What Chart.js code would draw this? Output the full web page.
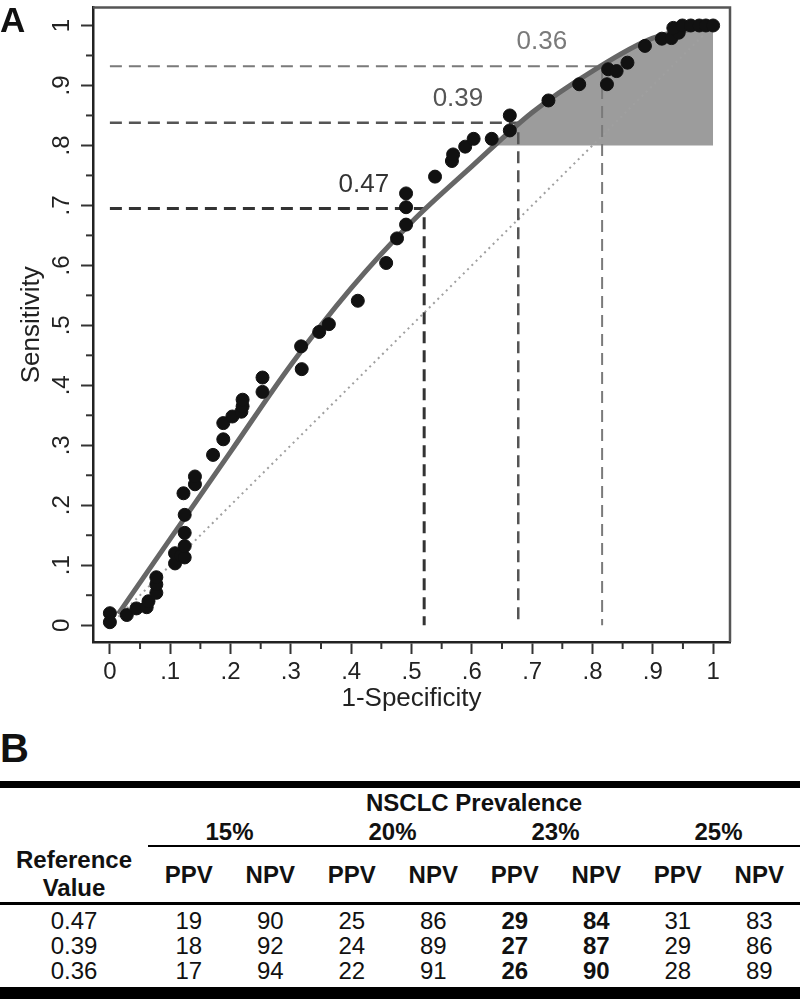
<!DOCTYPE html>
<html>
<head>
<meta charset="utf-8">
<script src="https://cdn.jsdelivr.net/npm/chart.js@4.4.1/dist/chart.umd.min.js"></script>
<style>
	body { margin: 0; background: #fff; font-family: "Liberation Sans", Arial, Helvetica, sans-serif; color: #111; }
	#wrap { position: relative; width: 800px; height: 1000px; overflow: hidden; }
	#roc { position: absolute; left: 0; top: 0; }
	.panel { position: absolute; left: 0; font-weight: bold; line-height: 1; color: #111; }
	#tabla { position: absolute; left: 0; top: 781px; width: 800px; border-collapse: collapse; table-layout: fixed; font-size: 24px; border-top: 7px solid #000; border-bottom: 12px solid #000; }
	#tabla td { padding: 0; text-align: center; white-space: nowrap; }
	#tabla .r1 td { line-height: 30px; font-weight: bold; }
	#tabla .r2 td { line-height: 27px; font-weight: bold; }
	#tabla .r2 td.pct { border-bottom: 2px solid #000; }
	#tabla .r3 { border-bottom: 3px solid #000; }
	#tabla .r3 td { font-weight: bold; vertical-align: middle; line-height: 28px; }
	#tabla .fila td { line-height: 25px; }
	#tabla .fila.primera td { padding-top: 3px; }
	#tabla .fila.ultima td { padding-bottom: 4px; }
	#tabla td.neg { font-weight: bold; }
</style>
</head>
<body>
<div id="wrap">
	<canvas id="roc" width="800" height="720"></canvas>
	<div class="panel" style="top:2px; font-size:35px;">A</div>
	<div class="panel" style="top:728px; font-size:40px;">B</div>
	<table id="tabla"></table>
</div>
<script>
// ejes
const ejeTicks = [0, .1, .2, .3, .4, .5, .6, .7, .8, .9, 1];
const ejeEtiquetas = ['0', '.1', '.2', '.3', '.4', '.5', '.6', '.7', '.8', '.9', '1'];
const ejeMenores = [.05, .15, .25, .35, .45, .55, .65, .75, .85, .95];

// puntos ROC observados (1-especificidad, sensibilidad)
const puntosX = [0, 0, .028, .044, .061, .064, .077, .077, .077, .108, .108, .118, .124, .124, .124, .124, .122, .141, .141,
	.171, .188, .188, .203, .218, .22, .22, .253, .253, .318, .317, .347, .363, .411, .458, .476, .491, .491, .491,
	.539, .567, .569, .589, .603, .633, .663, .663, .727, .778, .824, .826, .84, .858, .887, .915, .931, .943, .934,
	.949, .963, .977, .988, 1];
const puntosY = [.02, .005, .017, .028, .03, .04, .054, .068, .08, .103, .12, .116, .113, .132, .154, .184, .22, .235, .248,
	.284, .31, .337, .348, .356, .365, .376, .389, .413, .427, .465, .489, .502, .541, .604, .645, .668, .697, .72,
	.748, .774, .785, .798, .811, .811, .825, .85, .875, .902, .902, .927, .924, .938, .966, .978, .979, .988, .996,
	1, 1, 1, 1, 1];

// curva ajustada
const curvaX = [.014, .1, .2, .3, .4, .5, .6, .7, .8, .9, 1];
const curvaY = [.019, .144, .289, .434, .562, .672, .765, .855, .924, .979, 1];

// zona sombreada (sensibilidad >= .8)
const zonaX = [.641, .7, .8, .9, 1];
const zonaY = [.8, .855, .924, .979, 1];
const zonaBase = .8;

// puntos de corte
const corteX = [.521, .677, .816];
const corteY = [.695, .838, .932];
const corteEtiquetas = ['0.47', '0.39', '0.36'];
const corteColores = ['#333', '#555', '#7a7a7a'];
const corteAnchos = [3, 2.5, 2];

// tabla B
const prevalencias = ['15%', '20%', '23%', '25%'];
const valoresRef = ['0.47', '0.39', '0.36'];
const ppv = [[19, 25, 29, 31], [18, 24, 27, 29], [17, 22, 26, 28]];
const npv = [[90, 86, 84, 83], [92, 89, 87, 86], [94, 91, 90, 89]];
const prevDestacada = 2;

const fuente = '"Liberation Sans", Arial, Helvetica, sans-serif';
Chart.defaults.font.family = fuente;

function pares(xs, ys){
	return xs.map((x, i) => ({x: x, y: ys[i]}));
}

let datasets = [];
datasets.push({
	type: 'scatter', data: pares(puntosX, puntosY), order: 0,
	pointRadius: 6.5, pointBorderWidth: 1, backgroundColor: '#111', borderColor: '#111'
});
datasets.push({
	type: 'line', data: pares(curvaX, curvaY), order: 1,
	borderColor: '#666', borderWidth: 5, pointRadius: 0, cubicInterpolationMode: 'monotone', fill: false
});
corteX.forEach((cx, i) => {
	datasets.push({
		type: 'line', data: [{x: 0, y: corteY[i]}, {x: cx, y: corteY[i]}, {x: cx, y: 0}], order: 2,
		borderColor: corteColores[i], borderWidth: corteAnchos[i], borderDash: [12, 7], pointRadius: 0, fill: false
	});
});
datasets.push({
	type: 'line', data: [{x: 0, y: 0}, {x: 1, y: 1}], order: 3,
	borderColor: '#a0a0a0', borderWidth: 2, borderDash: [2, 4], pointRadius: 0, fill: false
});
datasets.push({
	type: 'line', data: pares(zonaX, zonaY), order: 4,
	borderWidth: 0, borderColor: 'rgba(0,0,0,0)', backgroundColor: '#9c9c9c', pointRadius: 0,
	cubicInterpolationMode: 'monotone', fill: {value: zonaBase}
});

const extras = {
	id: 'extras',
	afterDraw(chart) {
		const {ctx, chartArea: a, scales: {x, y}} = chart;
		ctx.save();
		// marco superior y derecho
		ctx.strokeStyle = '#555';
		ctx.lineWidth = 2.5;
		ctx.beginPath();
		ctx.moveTo(a.left, a.top); ctx.lineTo(a.right, a.top); ctx.lineTo(a.right, a.bottom);
		ctx.stroke();
		// marcas menores
		ctx.strokeStyle = '#333';
		ctx.lineWidth = 2;
		ejeMenores.forEach(v => {
			const px = x.getPixelForValue(v);
			ctx.beginPath(); ctx.moveTo(px, a.bottom); ctx.lineTo(px, a.bottom + 7); ctx.stroke();
			const py = y.getPixelForValue(v);
			ctx.beginPath(); ctx.moveTo(a.left, py); ctx.lineTo(a.left - 7, py); ctx.stroke();
		});
		// etiquetas de los cortes
		ctx.font = '26px ' + fuente;
		ctx.textAlign = 'center';
		ctx.textBaseline = 'middle';
		corteEtiquetas.forEach((t, i) => {
			ctx.fillStyle = corteColores[i];
			ctx.fillText(t, x.getPixelForValue(corteX[i] - .1), y.getPixelForValue(corteY[i] + .04));
		});
		ctx.restore();
	}
};

function fijarTicks(s){
	s.ticks = ejeTicks.map(v => ({value: v}));
}

new Chart(document.getElementById('roc'), {
	type: 'scatter',
	data: {datasets: datasets},
	options: {
		responsive: false,
		animation: false,
		devicePixelRatio: 1,
		layout: {padding: {top: 3, right: 70, left: 0, bottom: 0}},
		plugins: {legend: {display: false}, tooltip: {enabled: false}},
		scales: {
			x: {
				type: 'linear', min: -.028, max: 1.028,
				afterBuildTicks: fijarTicks,
				afterFit: s => { s.height = 78; s.paddingLeft = 0; s.paddingRight = 0; },
				grid: {drawOnChartArea: false, drawTicks: true, tickLength: 12, tickColor: '#333', tickWidth: 2},
				border: {display: true, color: '#222', width: 2.5},
				ticks: {autoSkip: false, maxRotation: 0, padding: 4, color: '#222', font: {size: 24},
					callback: (v, i) => ejeEtiquetas[i]},
				title: {display: true, text: '1-Specificity', color: '#222', font: {size: 26}, padding: {top: 0, bottom: 6}}
			},
			y: {
				type: 'linear', min: -.028, max: 1.03,
				afterBuildTicks: fijarTicks,
				afterFit: s => { s.width = 93; s.paddingTop = 0; s.paddingBottom = 0; },
				grid: {drawOnChartArea: false, drawTicks: true, tickLength: 12, tickColor: '#333', tickWidth: 2},
				border: {display: true, color: '#222', width: 2.5},
				ticks: {autoSkip: false, minRotation: 90, maxRotation: 90, crossAlign: 'center', padding: 9,
					color: '#222', font: {size: 24}, callback: (v, i) => ejeEtiquetas[i]},
				title: {display: true, text: 'Sensitivity', color: '#222', font: {size: 26}, padding: {top: 16, bottom: 0}}
			}
		}
	},
	plugins: [extras]
});

// tabla
function construirTabla(){
	let out = '<colgroup><col style="width:148px">';
	for (let i = 0; i < 8; i++) out += '<col style="width:81.5px">';
	out += '</colgroup>';
	out += '<tr class="r1"><td></td><td colspan="8">NSCLC Prevalence</td></tr>';
	out += '<tr class="r2"><td></td>';
	prevalencias.forEach(p => { out += '<td colspan="2" class="pct">' + p + '</td>'; });
	out += '</tr>';
	out += '<tr class="r3"><td>Reference<br>Value</td>';
	prevalencias.forEach(() => { out += '<td>PPV</td><td>NPV</td>'; });
	out += '</tr>';
	valoresRef.forEach((r, i) => {
		let clase = 'fila';
		if (i == 0) clase += ' primera';
		if (i == valoresRef.length - 1) clase += ' ultima';
		out += '<tr class="' + clase + '"><td>' + r + '</td>';
		prevalencias.forEach((p, j) => {
			const neg = (j == prevDestacada) ? ' class="neg"' : '';
			out += '<td' + neg + '>' + ppv[i][j] + '</td><td' + neg + '>' + npv[i][j] + '</td>';
		});
		out += '</tr>';
	});
	document.getElementById('tabla').innerHTML = out;
}
construirTabla();
</script>
</body>
</html>
